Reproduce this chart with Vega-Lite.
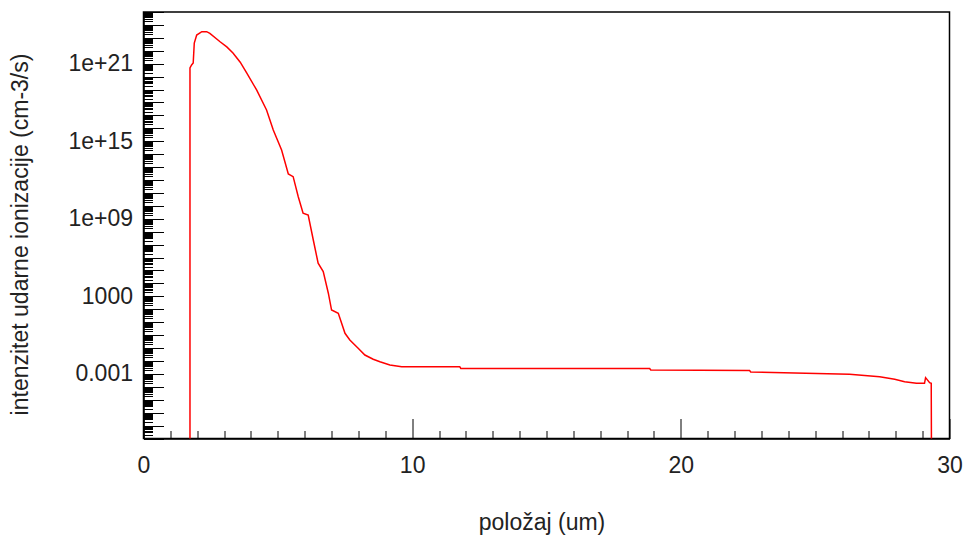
{
  "$schema": "https://vega.github.io/schema/vega-lite/v6.json",
  "width": 806,
  "height": 426.5,
  "autosize": {"type": "none"},
  "padding": {"left": 143.5, "top": 12, "right": 15.5, "bottom": 97.5},
  "background": "white",
  "config": {
    "view": {"stroke": "black", "strokeWidth": 1.5},
    "axis": {
      "domainColor": "black",
      "domainWidth": 1.5,
      "tickColor": "black",
      "tickWidth": 1,
      "grid": false,
      "labelFont": "Liberation Sans",
      "labelFontSize": 23,
      "labelColor": "#222222",
      "titleFont": "Liberation Sans",
      "titleFontSize": 23,
      "titleFontWeight": "normal",
      "titleColor": "#222222",
      "labelOverlap": false,
      "labelFlush": false
    }
  },
  "data": {
    "values": [
      {"i": 0, "x": 1.73, "y": 1e-10},
      {"i": 1, "x": 1.73, "y": 4.68e20},
      {"i": 2, "x": 1.79, "y": 7.94e20},
      {"i": 3, "x": 1.85, "y": 1.12e21},
      {"i": 4, "x": 1.89, "y": 3.98e22},
      {"i": 5, "x": 1.98, "y": 1.66e23},
      {"i": 6, "x": 2.17, "y": 3.02e23},
      {"i": 7, "x": 2.35, "y": 3.02e23},
      {"i": 8, "x": 2.47, "y": 2.24e23},
      {"i": 9, "x": 2.85, "y": 5.01e22},
      {"i": 10, "x": 3.1, "y": 2.0e22},
      {"i": 11, "x": 3.33, "y": 6.76e21},
      {"i": 12, "x": 3.6, "y": 1.3e21},
      {"i": 13, "x": 3.84, "y": 1.91e20},
      {"i": 14, "x": 4.21, "y": 9.33e18},
      {"i": 15, "x": 4.58, "y": 2.63e17},
      {"i": 16, "x": 4.83, "y": 7.41e15},
      {"i": 17, "x": 5.14, "y": 2.09e14},
      {"i": 18, "x": 5.39, "y": 2.95e12},
      {"i": 19, "x": 5.57, "y": 1.82e12},
      {"i": 20, "x": 5.76, "y": 5.13e10},
      {"i": 21, "x": 5.94, "y": 2.69e9},
      {"i": 22, "x": 6.13, "y": 1.95e9},
      {"i": 23, "x": 6.32, "y": 2.29e7},
      {"i": 24, "x": 6.5, "y": 3.63e5},
      {"i": 25, "x": 6.69, "y": 8.13e4},
      {"i": 26, "x": 6.88, "y": 1738},
      {"i": 27, "x": 7.0, "y": 87.1},
      {"i": 28, "x": 7.25, "y": 49.0},
      {"i": 29, "x": 7.5, "y": 1.38},
      {"i": 30, "x": 7.68, "y": 0.417},
      {"i": 31, "x": 7.99, "y": 0.0955},
      {"i": 32, "x": 8.24, "y": 0.0288},
      {"i": 33, "x": 8.55, "y": 0.0135},
      {"i": 34, "x": 8.8, "y": 0.00871},
      {"i": 35, "x": 9.17, "y": 0.0049},
      {"i": 36, "x": 9.61, "y": 0.00363},
      {"i": 37, "x": 11.77, "y": 0.00363},
      {"i": 38, "x": 11.81, "y": 0.00263},
      {"i": 39, "x": 18.84, "y": 0.00263},
      {"i": 40, "x": 18.88, "y": 0.002},
      {"i": 41, "x": 22.56, "y": 0.00182},
      {"i": 42, "x": 22.6, "y": 0.00141},
      {"i": 43, "x": 26.28, "y": 0.000933},
      {"i": 44, "x": 27.4, "y": 0.000603},
      {"i": 45, "x": 27.96, "y": 0.00038},
      {"i": 46, "x": 28.33, "y": 0.000251},
      {"i": 47, "x": 28.77, "y": 0.000186},
      {"i": 48, "x": 29.07, "y": 0.000186},
      {"i": 49, "x": 29.11, "y": 0.000513},
      {"i": 50, "x": 29.26, "y": 0.000209},
      {"i": 51, "x": 29.32, "y": 0.000186},
      {"i": 52, "x": 29.33, "y": 1e-10}
    ]
  },
  "mark": {"type": "line", "color": "#ff0000", "strokeWidth": 1.5, "clip": true},
  "encoding": {
    "order": {"field": "i", "type": "quantitative"},
    "x": {
      "field": "x",
      "type": "quantitative",
      "scale": {"domain": [0, 30], "nice": false, "zero": false},
      "axis": {
        "title": "položaj (um)",
        "values": [0,1,2,3,4,5,6,7,8,9,10,11,12,13,14,15,16,17,18,19,20,21,22,23,24,25,26,27,28,29,30],
        "tickSize": {"condition": {"test": "datum.value % 10 == 0", "value": -20}, "value": -8},
        "labelExpr": "datum.value % 10 == 0 ? datum.label : ''",
        "labelPadding": 36,
        "titleX": 398,
        "titleY": 83.5,
        "titleBaseline": "middle"
      }
    },
    "y": {
      "field": "y",
      "type": "quantitative",
      "scale": {"type": "log", "domain": [1e-8, 1e25], "nice": false},
      "axis": {
        "title": "intenzitet udarne ionizacije (cm-3/s)",
        "tickCount": 40,
        "tickSize": {"condition": {"test": "abs(log(datum.value)/LN10 - round(log(datum.value)/LN10)) < 0.001", "value": -20}, "value": -9},
        "labelExpr": "round(log(datum.value)/LN10) == 21 && abs(log(datum.value)/LN10 - 21) < 0.001 ? '1e+21' : round(log(datum.value)/LN10) == 15 && abs(log(datum.value)/LN10 - 15) < 0.001 ? '1e+15' : round(log(datum.value)/LN10) == 9 && abs(log(datum.value)/LN10 - 9) < 0.001 ? '1e+09' : round(log(datum.value)/LN10) == 3 && abs(log(datum.value)/LN10 - 3) < 0.001 ? '1000' : round(log(datum.value)/LN10) == -3 && abs(log(datum.value)/LN10 + 3) < 0.001 ? '0.001' : ''",
        "labelPadding": 31,
        "titleX": -123.5,
        "titleY": 222,
        "titleBaseline": "middle",
        "titleAngle": -90
      }
    }
  }
}
